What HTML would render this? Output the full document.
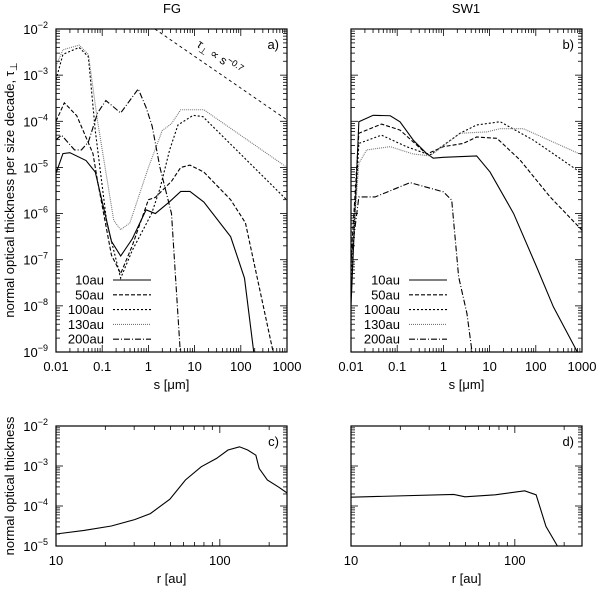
<!DOCTYPE html>
<html><head><meta charset="utf-8"><style>
body{margin:0;background:#fff;}
svg text{font-family:"Liberation Sans",sans-serif;fill:#000;}
</style></head><body>
<svg id="s" width="600" height="589" viewBox="0 0 600 589" xmlns="http://www.w3.org/2000/svg"></svg>
<script>
// ---- data (log10 x, log10 y) ----
const seriesNames = ["10au","50au","100au","130au","200au"];
const fg10 = [[-2,-5.13],[-1.85,-4.7],[-1.7,-4.68],[-1.35,-4.85],[-1.15,-5.1],[-0.8,-6.6],[-0.6,-6.92],[-0.35,-6.55],[-0.05,-5.92],[0.15,-6.0],[0.45,-5.75],[0.7,-5.52],[0.9,-5.52],[1.2,-5.75],[1.78,-6.5],[2.08,-7.4],[2.28,-9]];
const fg50 = [[-2,-4.0],[-1.82,-3.6],[-1.55,-3.88],[-1.2,-4.7],[-1.1,-5.3],[-0.8,-6.9],[-0.6,-7.3],[-0.35,-6.7],[0,-5.7],[0.15,-5.65],[0.5,-5.3],[0.7,-5.0],[0.9,-4.95],[1.2,-5.1],[1.78,-5.7],[2.1,-6.2],[2.7,-9]];
const fg100 = [[-2,-3.1],[-1.85,-2.55],[-1.5,-2.4],[-1.3,-2.6],[-1.15,-4.2],[-0.9,-6.2],[-0.6,-7.4],[-0.35,-6.8],[0.07,-6.0],[0.25,-5.46],[0.46,-4.62],[0.64,-4.08],[0.97,-3.87],[1.18,-3.9],[3,-5.71]];
const fg130 = [[-2,-2.8],[-1.85,-2.45],[-1.5,-2.35],[-1.3,-2.55],[-1.1,-4.0],[-0.75,-6.15],[-0.6,-6.35],[-0.4,-6.2],[0,-5.0],[0.15,-4.6],[0.3,-4.2],[0.5,-4.05],[0.7,-3.75],[1.2,-3.75],[3,-5.0]];
const fg200 = [[-2,-4.4],[-1.88,-4.3],[-1.6,-4.62],[-1.45,-4.62],[-1.3,-4.45],[-1.1,-3.82],[-0.92,-3.55],[-0.6,-3.82],[-0.22,-3.3],[-0.05,-3.7],[0.08,-4.1],[0.25,-5.0],[0.5,-6.0],[0.69,-9]];
const sw10 = [[-2,-8],[-1.83,-4.01],[-1.52,-3.87],[-1.15,-3.88],[-0.94,-4.01],[-0.65,-4.41],[-0.36,-4.7],[-0.22,-4.8],[0,-4.78],[0.72,-4.75],[1.01,-5.1],[1.52,-6],[2.02,-7.16],[2.38,-8.02],[2.9,-9]];
const sw50 = [[-2,-7],[-1.83,-4.26],[-1.34,-4.06],[-0.94,-4.19],[-0.36,-4.71],[0,-4.55],[0.43,-4.48],[0.72,-4.34],[1.16,-4.37],[1.66,-4.84],[2.31,-5.64],[3,-6.36]];
const sw100 = [[-2,-7.5],[-1.83,-4.48],[-1.34,-4.3],[-0.8,-4.55],[-0.29,-4.73],[0,-4.52],[0.36,-4.26],[0.72,-4.08],[1.23,-4.01],[1.95,-4.41],[3,-5.13]];
const sw130 = [[-2,-7.2],[-1.83,-4.91],[-1.66,-4.62],[-1.15,-4.55],[-0.65,-4.71],[-0.29,-4.75],[0.36,-4.26],[0.94,-4.23],[1.23,-4.16],[1.73,-4.16],[3,-4.73]];
const sw200 = [[-2,-7.0],[-1.83,-5.64],[-1.48,-5.64],[-0.72,-5.33],[0,-5.53],[0.18,-5.71],[0.33,-7.37],[0.51,-8.17],[0.62,-9]];
const refLine = [[0.14,-2],[3,-3.97]];
const fgRadial = [[1,-4.7],[1.171,-4.61],[1.338,-4.5],[1.48,-4.34],[1.576,-4.19],[1.695,-3.83],[1.79,-3.35],[1.886,-3.02],[1.98,-2.81],[2.05,-2.6],[2.12,-2.52],[2.17,-2.6],[2.22,-2.73],[2.24,-3.06],[2.29,-3.35],[2.36,-3.53],[2.44,-3.76]];
const swRadial = [[1,-3.78],[1.627,-3.71],[1.696,-3.77],[1.88,-3.72],[2.06,-3.62],[2.13,-3.72],[2.19,-4.51],[2.26,-5]];
const sTicks = ["0.01","0.1","1","10","100","1000"];
const rTicks = ["10","100"];

const NS="http://www.w3.org/2000/svg";
const svg=document.getElementById('s');
function mk(t,a,p){const e=document.createElementNS(NS,t);for(const k in a)e.setAttribute(k,a[k]);(p||svg).appendChild(e);return e;}
const styles=[{d:"",c:"#000"},{d:"4,2",c:"#000"},{d:"2,2",c:"#000"},{d:"1,1",c:"#777"},{d:"6,2,1,2",c:"#000"}];

function panel(P){
  const g=mk('g',{});
  
  
  const X=v=>P.x0+(v-P.xl0)/(P.xl1-P.xl0)*(P.x1-P.x0);
  const Y=v=>P.y1-(v-P.yl0)/(P.yl1-P.yl0)*(P.y1-P.y0);
  const clip='c'+P.name;
  const cp=mk('clipPath',{id:clip},g);mk('rect',{x:P.x0,y:P.y0,width:P.x1-P.x0,height:P.y1-P.y0},cp);
  // ticks
  for(let d=Math.floor(P.xl0);d<=Math.ceil(P.xl1);d++)for(let m=1;m<10;m++){const v=d+Math.log10(m);if(v<P.xl0-1e-9||v>P.xl1+1e-9)continue;const L=m==1?7:4,x=X(v);
    mk('line',{x1:x,x2:x,y1:P.y1,y2:P.y1-L,stroke:'#000','stroke-width':0.8},g);mk('line',{x1:x,x2:x,y1:P.y0,y2:P.y0+L,stroke:'#000','stroke-width':0.8},g);}
  for(let d=P.yl0;d<=P.yl1;d++)for(let m=1;m<10;m++){const v=d+Math.log10(m);if(v>P.yl1+1e-9)continue;const L=m==1?7:4,y=Y(v);
    mk('line',{x1:P.x0,x2:P.x0+L,y1:y,y2:y,stroke:'#000','stroke-width':0.8},g);mk('line',{x1:P.x1,x2:P.x1-L,y1:y,y2:y,stroke:'#000','stroke-width':0.8},g);}
  // tick labels
  P.xt.forEach((t,i)=>{const e=mk('text',{x:X(P.xtl0+i),y:P.y1+19,'text-anchor':'middle','font-size':13},g);e.textContent=t;
    
    });
  if(P.ylab)for(let d=P.yl0;d<=P.yl1;d++){const e=mk('text',{x:P.x0-8,y:Y(d)+5,'text-anchor':'end','font-size':13},g);
    e.innerHTML='10<tspan dy="-6" font-size="9">−'+(-d)+'</tspan>';
    
    }
  // series
  P.series.forEach((s,i)=>{const st=styles[i];
    const p=mk('polyline',{points:s.map(q=>X(q[0])+','+Y(q[1])).join(' '),fill:'none',stroke:st.c,'stroke-width':1.1,'stroke-dasharray':st.d,'clip-path':'url(#'+clip+')'},g);
    
    });
  if(P.ref){const p=mk('polyline',{points:P.ref.map(q=>X(q[0])+','+Y(q[1])).join(' '),fill:'none',stroke:'#000','stroke-width':0.9,'stroke-dasharray':'3,3','clip-path':'url(#'+clip+')'},g);
    
    }
  mk('rect',{x:P.x0,y:P.y0,width:P.x1-P.x0,height:P.y1-P.y0,fill:'none',stroke:'#000','stroke-width':1.2},g);
  const lb=mk('text',{x:P.x1-8,y:P.y0+20,'text-anchor':'end','font-size':13},g);lb.textContent=P.label;
  
  
  if(P.legend){seriesNames.forEach((n,i)=>{const y=P.legend.y+i*14.8;
    const t=mk('text',{x:P.legend.x,y:y+4.5,'text-anchor':'end','font-size':13},g);t.textContent=n;
    
    
    mk('line',{x1:P.legend.x+9,x2:P.legend.x+47,y1:y,y2:y,stroke:styles[i].c,'stroke-width':1.1,'stroke-dasharray':styles[i].d},g);});}
  const xl=mk('text',{x:(P.x0+P.x1)/2,y:P.y1+37,'text-anchor':'middle','font-size':13},g);xl.innerHTML=P.xtitle;
  
  
}
panel({name:'panel-a',x0:56,x1:287,y0:29,y1:352,xl0:-2,xl1:3,yl0:-9,yl1:-2,xt:sTicks,xtl0:-2,ylab:true,series:[fg10,fg50,fg100,fg130,fg200],snames:seriesNames,ref:refLine,label:'a)',legend:{x:104,y:280},xtitle:'s [μm]'});
panel({name:'panel-b',x0:351,x1:582,y0:29,y1:352,xl0:-2,xl1:3,yl0:-9,yl1:-2,xt:sTicks,xtl0:-2,ylab:false,series:[sw10,sw50,sw100,sw130,sw200],snames:seriesNames,label:'b)',legend:{x:400,y:280},xtitle:'s [μm]'});
panel({name:'panel-c',x0:56,x1:287,y0:426,y1:546,xl0:1,xl1:2.41,yl0:-5,yl1:-2,xt:rTicks,xtl0:1,ylab:true,series:[fgRadial],label:'c)',xtitle:'r [au]'});
panel({name:'panel-d',x0:351,x1:582,y0:426,y1:546,xl0:1,xl1:2.41,yl0:-5,yl1:-2,xt:rTicks,xtl0:1,ylab:false,series:[swRadial],label:'d)',xtitle:'r [au]'});
</script>
<svg width="600" height="589" style="position:absolute;left:0;top:0" xmlns="http://www.w3.org/2000/svg">
<text x="172" y="13" text-anchor="middle" font-size="13">FG</text>
<text x="466" y="13" text-anchor="middle" font-size="13">SW1</text>
<text transform="translate(14,190) rotate(-90)" text-anchor="middle" font-size="13">normal optical thickness per size decade, τ<tspan dy="3" font-size="10">⊥</tspan></text>
<text transform="translate(14,486) rotate(-90)" text-anchor="middle" font-size="13">normal optical thickness</text>
<text transform="translate(196,46) rotate(35)" font-size="12">τ<tspan dy="3" font-size="9">⊥</tspan><tspan dy="-3"> ∝ s</tspan><tspan dy="-5" font-size="9">−0.7</tspan></text>
</svg>
</body></html>
